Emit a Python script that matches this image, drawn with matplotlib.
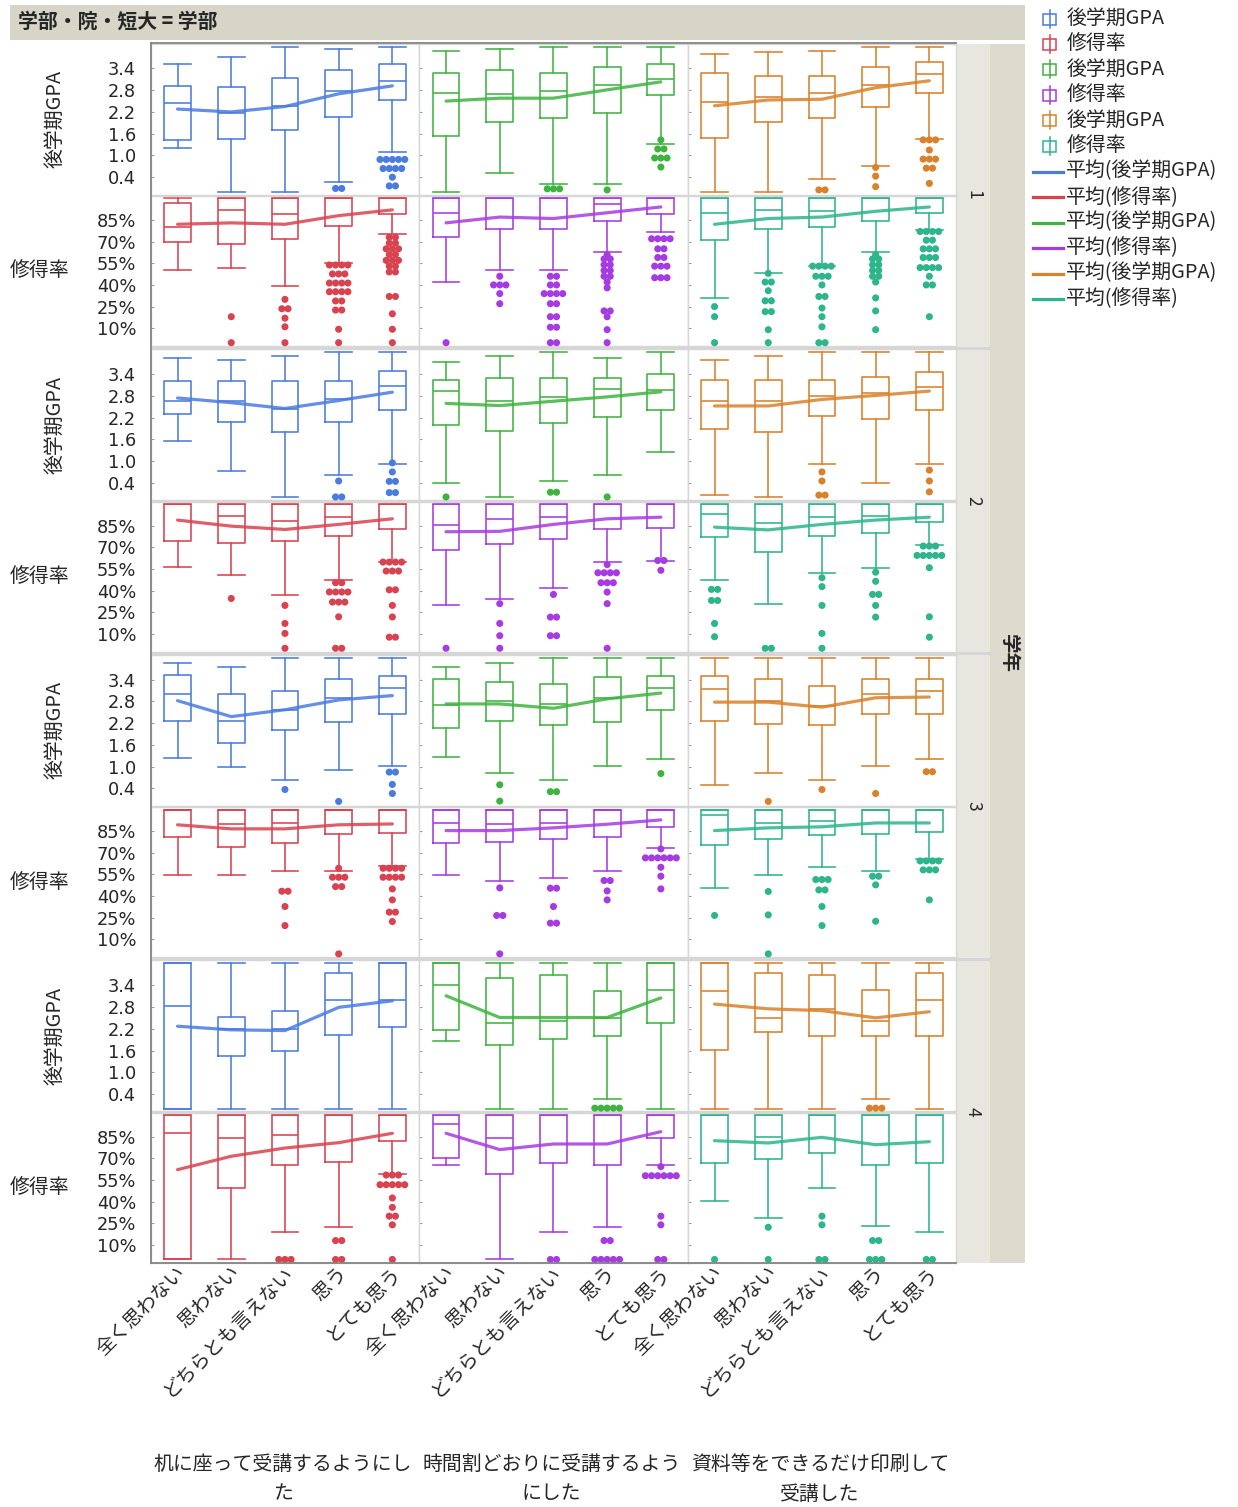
import numpy as np
import matplotlib
matplotlib.use("Agg")
import matplotlib.pyplot as plt
from matplotlib.patches import Rectangle
from matplotlib.lines import Line2D
from matplotlib.ticker import FuncFormatter
import matplotlib.transforms as mtransforms

plt.rcParams['font.family'] = ['Noto Sans CJK JP', 'DejaVu Sans']

# ---------------- data ----------------
categories = ["全く思わない", "思わない", "どちらとも言えない", "思う", "とても思う"]
column_titles = [["机に座って受講するようにし", "た"],
                 ["時間割どおりに受講するよう", "にした"],
                 ["資料等をできるだけ印刷して", "受講した"]]
years = ["1", "2", "3", "4"]
header_text = "学部・院・短大 = 学部"
gpa_ticks = [0.4, 1.0, 1.6, 2.2, 2.8, 3.4]
rate_ticks = [0.10, 0.25, 0.40, 0.55, 0.70, 0.85]

gpa_colors = ["#4a7be0", "#3fb340", "#d9812b"]
rate_colors = ["#d9424f", "#a73be2", "#2db58c"]

# box stats per column: (whislo, q1, med, q3, whishi) for the 5 categories
gpa_box_y1 = [
    [(1.21, 1.42, 2.44, 2.92, 3.52), (0.0, 1.45, 2.18, 2.89, 3.72), (0.0, 1.70, 2.36, 3.14, 4.0), (0.26, 2.07, 2.78, 3.35, 3.93), (1.09, 2.53, 3.06, 3.51, 4.0)],
    [(0.0, 1.54, 2.73, 3.27, 3.88), (0.51, 1.91, 2.70, 3.35, 3.93), (0.21, 2.02, 2.78, 3.27, 4.0), (0.21, 2.16, 2.94, 3.43, 4.0), (1.32, 2.66, 3.10, 3.51, 4.0)],
    [(0.0, 1.49, 2.48, 3.27, 3.80), (0.0, 1.91, 2.60, 3.19, 3.85), (0.35, 2.02, 2.73, 3.19, 3.88), (0.72, 2.33, 2.94, 3.43, 4.0), (1.45, 2.73, 3.24, 3.59, 4.0)],
]
gpa_box_y2 = [
    [(1.55, 2.29, 2.67, 3.21, 3.85), (0.72, 2.08, 2.65, 3.21, 3.80), (0.0, 1.80, 2.43, 3.21, 3.90), (0.61, 2.08, 2.70, 3.21, 4.0), (0.93, 2.42, 3.07, 3.49, 4.0)],
    [(0.40, 2.0, 2.92, 3.24, 3.74), (0.0, 1.84, 2.67, 3.28, 3.90), (0.44, 2.04, 2.77, 3.28, 4.0), (0.61, 2.21, 2.99, 3.28, 3.85), (1.26, 2.42, 2.96, 3.40, 4.0)],
    [(0.07, 1.88, 2.67, 3.24, 3.78), (0.0, 1.79, 2.67, 3.24, 3.90), (0.93, 2.25, 2.79, 3.24, 4.0), (0.40, 2.17, 2.87, 3.33, 4.0), (0.93, 2.42, 3.04, 3.45, 4.0)],
]
gpa_box_y3 = [
    [(1.24, 2.27, 3.01, 3.54, 3.86), (0.98, 1.66, 2.27, 3.01, 3.75), (0.62, 2.01, 2.55, 3.08, 4.0), (0.91, 2.23, 2.89, 3.42, 4.0), (1.03, 2.44, 3.18, 3.49, 4.0)],
    [(1.28, 2.07, 2.69, 3.42, 3.75), (0.83, 2.26, 2.82, 3.34, 3.87), (0.62, 2.15, 2.73, 3.27, 4.0), (1.03, 2.23, 2.89, 3.47, 4.0), (1.20, 2.55, 3.18, 3.50, 4.0)],
    [(0.50, 2.26, 3.14, 3.50, 4.0), (0.83, 2.18, 2.82, 3.42, 4.0), (0.62, 2.14, 2.67, 3.22, 4.0), (1.03, 2.44, 3.01, 3.42, 4.0), (1.20, 2.44, 3.08, 3.42, 4.0)],
]
gpa_box_y4 = [
    [(0.0, 0.0, 2.82, 4.0, 4.0), (0.0, 1.46, 2.20, 2.53, 4.0), (0.0, 1.58, 2.19, 2.70, 4.0), (0.0, 2.03, 2.99, 3.73, 4.0), (0.0, 2.24, 2.99, 4.0, 4.0)],
    [(1.87, 2.17, 3.40, 4.0, 4.0), (0.0, 1.74, 2.37, 3.60, 4.0), (0.0, 1.92, 2.41, 3.68, 4.0), (0.26, 2.0, 2.50, 3.23, 4.0), (0.0, 2.37, 3.28, 4.0, 4.0)],
    [(0.0, 1.62, 3.23, 4.0, 4.0), (0.0, 2.12, 2.50, 3.73, 4.0), (0.0, 1.99, 2.75, 3.68, 4.0), (0.26, 1.99, 2.42, 3.28, 4.0), (0.0, 2.0, 2.99, 3.73, 4.0)],
]

rate_box_y1 = [
    [(0.50, 0.695, 0.80, 0.97, 1.0), (0.52, 0.685, 0.92, 1.0, 1.0), (0.395, 0.715, 0.89, 1.0, 1.0), (0.55, 0.81, 1.0, 1.0, 1.0), (0.75, 0.89, 1.0, 1.0, 1.0)],
    [(0.42, 0.73, 0.90, 1.0, 1.0), (0.50, 0.79, 1.0, 1.0, 1.0), (0.50, 0.79, 1.0, 1.0, 1.0), (0.63, 0.84, 0.96, 1.0, 1.0), (0.77, 0.89, 1.0, 1.0, 1.0)],
    [(0.31, 0.71, 0.90, 1.0, 1.0), (0.48, 0.79, 0.92, 1.0, 1.0), (0.53, 0.80, 0.91, 1.0, 1.0), (0.63, 0.84, 1.0, 1.0, 1.0), (0.78, 0.90, 1.0, 1.0, 1.0)],
]
rate_box_y2 = [
    [(0.56, 0.74, 1.0, 1.0, 1.0), (0.505, 0.73, 0.915, 1.0, 1.0), (0.37, 0.74, 0.885, 1.0, 1.0), (0.473, 0.78, 0.906, 1.0, 1.0), (0.597, 0.823, 1.0, 1.0, 1.0)],
    [(0.297, 0.68, 0.853, 1.0, 1.0), (0.339, 0.72, 0.897, 1.0, 1.0), (0.42, 0.76, 0.906, 1.0, 1.0), (0.597, 0.823, 1.0, 1.0, 1.0), (0.608, 0.835, 1.0, 1.0, 1.0)],
    [(0.473, 0.77, 0.93, 1.0, 1.0), (0.309, 0.669, 0.867, 1.0, 1.0), (0.523, 0.78, 0.906, 1.0, 1.0), (0.558, 0.80, 0.915, 1.0, 1.0), (0.712, 0.876, 1.0, 1.0, 1.0)],
]
rate_box_y3 = [
    [(0.549, 0.808, 1.0, 1.0, 1.0), (0.549, 0.743, 0.90, 1.0, 1.0), (0.577, 0.766, 0.907, 1.0, 1.0), (0.577, 0.827, 1.0, 1.0, 1.0), (0.612, 0.836, 1.0, 1.0, 1.0)],
    [(0.549, 0.766, 0.907, 1.0, 1.0), (0.508, 0.773, 0.90, 1.0, 1.0), (0.529, 0.794, 0.907, 1.0, 1.0), (0.577, 0.808, 1.0, 1.0, 1.0), (0.734, 0.882, 1.0, 1.0, 1.0)],
    [(0.455, 0.755, 0.963, 1.0, 1.0), (0.549, 0.796, 0.907, 1.0, 1.0), (0.60, 0.82, 0.919, 1.0, 1.0), (0.577, 0.827, 1.0, 1.0, 1.0), (0.66, 0.847, 1.0, 1.0, 1.0)],
]
rate_box_y4 = [
    [(0.0, 0.0, 0.874, 1.0, 1.0), (0.0, 0.493, 0.841, 1.0, 1.0), (0.193, 0.654, 0.862, 1.0, 1.0), (0.223, 0.678, 1.0, 1.0, 1.0), (0.594, 0.823, 1.0, 1.0, 1.0)],
    [(0.657, 0.703, 0.939, 1.0, 1.0), (0.0, 0.592, 0.841, 1.0, 1.0), (0.193, 0.666, 1.0, 1.0, 1.0), (0.223, 0.654, 1.0, 1.0, 1.0), (0.657, 0.841, 1.0, 1.0, 1.0)],
    [(0.408, 0.666, 1.0, 1.0, 1.0), (0.286, 0.699, 0.851, 1.0, 1.0), (0.493, 0.738, 1.0, 1.0, 1.0), (0.235, 0.654, 1.0, 1.0, 1.0), (0.193, 0.666, 1.0, 1.0, 1.0)],
]

# means per column (5 categories)
gpa_mean_y1 = [[2.28, 2.20, 2.35, 2.70, 2.92], [2.50, 2.58, 2.58, 2.81, 3.03], [2.37, 2.53, 2.55, 2.87, 3.06]]
gpa_mean_y2 = [[2.74, 2.61, 2.45, 2.67, 2.90], [2.59, 2.53, 2.65, 2.77, 2.91], [2.52, 2.52, 2.70, 2.81, 2.93]]
gpa_mean_y3 = [[2.82, 2.38, 2.57, 2.84, 2.96], [2.73, 2.73, 2.61, 2.87, 3.03], [2.78, 2.78, 2.64, 2.90, 2.92]]
gpa_mean_y4 = [[2.27, 2.17, 2.15, 2.79, 2.97], [3.11, 2.51, 2.51, 2.51, 3.05], [2.88, 2.75, 2.70, 2.50, 2.67]]
rate_mean_y1 = [[0.82, 0.83, 0.82, 0.88, 0.92], [0.83, 0.87, 0.86, 0.90, 0.94], [0.82, 0.86, 0.87, 0.91, 0.94]]
rate_mean_y2 = [[0.888, 0.846, 0.823, 0.858, 0.897], [0.807, 0.81, 0.858, 0.897, 0.908], [0.839, 0.82, 0.858, 0.888, 0.908]]
rate_mean_y3 = [[0.894, 0.866, 0.866, 0.894, 0.900], [0.854, 0.854, 0.873, 0.898, 0.928], [0.854, 0.873, 0.880, 0.907, 0.907]]
rate_mean_y4 = [[0.622, 0.715, 0.772, 0.809, 0.874], [0.874, 0.761, 0.80, 0.80, 0.885], [0.823, 0.807, 0.846, 0.795, 0.816]]

# outliers per column, per category
gpa_out_y1 = [
    [[], [], [], [0.09, 0.09], [0.89] * 5 + [0.64] * 4 + [0.40] + [0.16] * 2],
    [[], [], [0.08] * 3, [0.05], [1.43, 1.18, 1.18, 0.93, 0.93, 0.93, 0.68]],
    [[], [], [0.05] * 2, [0.67, 0.43, 0.14], [1.43] * 3 + [1.15] + [0.90] * 3 + [0.65] * 2 + [0.23]],
]
gpa_out_y2 = [
    [[], [], [], [0.45, 0.01, 0.01], [0.95, 0.70, 0.44, 0.44, 0.13, 0.13]],
    [[0.01], [], [0.14, 0.14], [0.01], []],
    [[], [], [0.70, 0.45, 0.06, 0.06], [], [0.75, 0.45, 0.15]],
]
gpa_out_y3 = [
    [[], [], [0.37], [0.04], [0.85, 0.85, 0.51, 0.26]],
    [[], [0.50, 0.05], [0.31, 0.31], [], [0.81]],
    [[], [0.04], [0.37], [0.26], [0.86, 0.86]],
]
gpa_out_y4 = [
    [[], [], [], [], []],
    [[], [], [], [0.01] * 5, []],
    [[], [], [], [0.01] * 3, []],
]
rate_out_y1 = [
    [[], [0.18, 0.0], [0.30, 0.235, 0.235, 0.17, 0.11, 0.0],
     [0.538] * 4 + [0.476] * 3 + [0.413] * 4 + [0.353] * 4 + [0.289] * 2 + [0.226] * 2 + [0.093, 0.0],
     [0.73] * 2 + [0.69] * 2 + [0.65] * 3 + [0.61] * 2 + [0.57] * 3 + [0.53] * 2 + [0.49] * 2 + [0.32] * 2 + [0.20, 0.093, 0.0]],
    [[0.0], [0.46, 0.40, 0.40, 0.40, 0.34, 0.27],
     [0.46] * 2 + [0.40] * 2 + [0.34] * 4 + [0.27] * 2 + [0.18] * 2 + [0.107] * 2 + [0.0] * 2,
     [0.61] + [0.58] * 2 + [0.54] * 2 + [0.50] * 2 + [0.46] * 2 + [0.42, 0.38, 0.22, 0.22, 0.18, 0.09, 0.0],
     [0.72] * 4 + [0.65] * 2 + [0.59] * 2 + [0.53] * 3 + [0.45] * 3],
    [[0.25, 0.18, 0.0], [0.48, 0.42, 0.42, 0.36, 0.29, 0.29, 0.215, 0.215, 0.09, 0.0],
     [0.53] * 4 + [0.46] * 3 + [0.40] + [0.32] * 2 + [0.24, 0.18, 0.11] + [0.0] * 2,
     [0.61] + [0.58] * 2 + [0.54] * 2 + [0.50] * 2 + [0.46] * 2 + [0.42, 0.31, 0.22, 0.09],
     [0.77] * 4 + [0.71] * 2 + [0.65] * 3 + [0.59] * 3 + [0.52] * 4 + [0.46] + [0.40] * 2 + [0.18]],
]
rate_out_y2 = [
    [[], [0.345], [0.297, 0.172, 0.103, 0.0],
     [0.454] * 2 + [0.39] * 4 + [0.32] * 3 + [0.218] + [0.0] * 2,
     [0.597] * 4 + [0.535] * 3 + [0.405] * 2 + [0.297, 0.217] + [0.077] * 2],
    [[0.0], [0.309, 0.172, 0.087, 0.0], [0.373, 0.216, 0.216, 0.087, 0.087],
     [0.58] + [0.523] * 4 + [0.454] * 3 + [0.389, 0.309, 0.0],
     [0.608] * 2 + [0.54]],
    [[0.408] * 2 + [0.331] * 2 + [0.172, 0.08], [0.0] * 2, [0.489, 0.427, 0.297, 0.103, 0.0],
     [0.527, 0.464, 0.373, 0.373, 0.297, 0.216],
     [0.708] * 3 + [0.643] * 5 + [0.558, 0.218, 0.077]],
]
rate_out_y3 = [
    [[], [], [0.434, 0.434, 0.328, 0.196], [0.593] + [0.531] * 3 + [0.466] * 2 + [0.0],
     [0.593] * 4 + [0.531] * 4 + [0.45, 0.374] + [0.289] * 2 + [0.224]],
    [[], [0.457, 0.266, 0.266, 0.0], [0.455, 0.455, 0.328, 0.213, 0.213], [0.508, 0.508, 0.436, 0.374],
     [0.727] + [0.665] * 6 + [0.60, 0.538, 0.45]],
    [[0.266], [0.432, 0.27, 0.0], [0.515] * 3 + [0.443] * 2 + [0.328, 0.196], [0.538] * 2 + [0.478, 0.226],
     [0.644] * 4 + [0.582] * 3 + [0.374]],
]
rate_out_y4 = [
    [[], [], [0.0] * 3, [0.131] * 2 + [0.0] * 2,
     [0.585] * 3 + [0.518] * 5 + [0.426, 0.361] + [0.30] * 2 + [0.24, 0.0]],
    [[], [], [0.0] * 2, [0.131] * 2 + [0.0] * 5, [0.643] + [0.58] * 6 + [0.30, 0.24] + [0.0] * 2],
    [[0.0], [0.223, 0.0], [0.30, 0.24, 0.0, 0.0], [0.131] * 2 + [0.0] * 3, [0.0] * 2],
]

gpa_box = [gpa_box_y1, gpa_box_y2, gpa_box_y3, gpa_box_y4]
rate_box = [rate_box_y1, rate_box_y2, rate_box_y3, rate_box_y4]
gpa_mean = [gpa_mean_y1, gpa_mean_y2, gpa_mean_y3, gpa_mean_y4]
rate_mean = [rate_mean_y1, rate_mean_y2, rate_mean_y3, rate_mean_y4]
gpa_out = [gpa_out_y1, gpa_out_y2, gpa_out_y3, gpa_out_y4]
rate_out = [rate_out_y1, rate_out_y2, rate_out_y3, rate_out_y4]

# ---------------- layout ----------------
W, H = 1238, 1507
fig = plt.figure(figsize=(W / 100, H / 100), dpi=100)

def fig_rect(x0, y0, w, h):
    return [x0 / W, 1 - (y0 + h) / H, w / W, h / H]

COL_X0, COL_W = 150.7, 268.5
ROW_Y0, ROW_PITCH = 43.5, 305.6
GPA_H, RATE_OFF, RATE_H = 151.0, 152.5, 150.0
PLOT_X1 = COL_X0 + 3 * COL_W
PLOT_Y1 = ROW_Y0 + 3 * ROW_PITCH + RATE_OFF + RATE_H

TXT = "#262626"
SEP = "#d6d6d6"
FS_CJK = 14.3

bg = fig.add_axes([0, 0, 1, 1], zorder=-5)
bg.set_xlim(0, W)
bg.set_ylim(H, 0)
bg.axis("off")
bg.add_patch(Rectangle((COL_X0, ROW_Y0), PLOT_X1 - COL_X0, PLOT_Y1 - ROW_Y0, color=SEP, lw=0))
bg.add_patch(Rectangle((10, 5), 1015, 35, color="#d6d5c7", lw=0))
bg.text(18, 21.5, header_text, fontsize=FS_CJK, fontweight="bold", color=TXT, va="center", ha="left")
bg.add_patch(Rectangle((PLOT_X1, ROW_Y0), 990 - PLOT_X1, PLOT_Y1 - ROW_Y0, color="#e7e7e0", lw=0))
bg.add_patch(Rectangle((990, ROW_Y0), 35, PLOT_Y1 - ROW_Y0, color="#dcdbcd", lw=0))
for r in range(1, 4):
    yy = ROW_Y0 + r * ROW_PITCH - 1.5
    bg.add_line(Line2D([PLOT_X1, 990], [yy, yy], color=SEP, lw=2.2))
for r, lab in enumerate(years):
    yc = ROW_Y0 + r * ROW_PITCH + (RATE_OFF + RATE_H) / 2
    bg.text(973, yc, lab, rotation=-90, fontsize=12.5, color=TXT, ha="center", va="center")
bg.text(1008, 653, "学年", rotation=-90, fontsize=14, fontweight="bold", color=TXT, ha="center", va="center")

def fmt_pct(v, pos):
    return f"{v * 100:.0f}%"

SPACING = 0.115

def draw_panel(ax, stats, means, outs, color, is_gpa):
    bstats = [dict(whislo=s[0], q1=s[1], med=s[2], q3=s[3], whishi=s[4], fliers=[]) for s in stats]
    lp = dict(color=color, lw=1.15)
    ax.bxp(bstats, positions=np.arange(len(categories)), widths=0.5, showfliers=False,
           boxprops=lp, whiskerprops=lp, capprops=lp, medianprops=lp, capwidths=0.5)
    for i, vals in enumerate(outs):
        if not vals:
            continue
        xs, ys = [], []
        for v in sorted(set(vals), reverse=True):
            n = vals.count(v)
            offs = (np.arange(n) - (n - 1) / 2) * SPACING
            xs.extend(i + offs)
            ys.extend([v] * n)
        ax.scatter(xs, ys, s=26, color=color, edgecolors="none", zorder=3, clip_on=False)
    ax.plot(np.arange(len(categories)), means, color=color, lw=2.3, alpha=0.85,
            solid_capstyle="round", zorder=4)
    ax.set_xlim(-0.5, len(categories) - 0.5)
    if is_gpa:
        ax.set_ylim(-0.077, 4.088)
        ax.set_yticks(gpa_ticks)
    else:
        ax.set_ylim(-0.023, 1.016)
        ax.set_yticks(rate_ticks)
        ax.yaxis.set_major_formatter(FuncFormatter(fmt_pct))
    for sp in ax.spines.values():
        sp.set_color(SEP)
        sp.set_linewidth(1.0)
    ax.tick_params(axis="y", direction="in", length=2, color="#9a9a9a", pad=10.5,
                   labelsize=12.8, labelcolor=TXT, labelfontfamily="DejaVu Sans")
    ax.tick_params(axis="x", length=0)

for r in range(4):
    for c in range(3):
        x0 = COL_X0 + c * COL_W
        y0 = ROW_Y0 + r * ROW_PITCH
        axg = fig.add_axes(fig_rect(x0, y0, COL_W, GPA_H))
        draw_panel(axg, gpa_box[r][c], gpa_mean[r][c], gpa_out[r][c], gpa_colors[c], True)
        axr = fig.add_axes(fig_rect(x0, y0 + RATE_OFF, COL_W, RATE_H))
        draw_panel(axr, rate_box[r][c], rate_mean[r][c], rate_out[r][c], rate_colors[c], False)
        axg.set_xticks(np.arange(len(categories)))
        axg.set_xticklabels([])
        axr.set_xticks(np.arange(len(categories)))
        if r == 3:
            axr.set_xticklabels(categories, rotation=45, ha="right", va="center",
                                rotation_mode="anchor", fontsize=14, color=TXT)
            off = mtransforms.ScaledTranslation(5 / 100, -2 / 100, fig.dpi_scale_trans)
            for lbl in axr.get_xticklabels():
                lbl.set_transform(lbl.get_transform() + off)
        else:
            axr.set_xticklabels([])
        if c != 0:
            axg.tick_params(axis="y", labelleft=False)
            axr.tick_params(axis="y", labelleft=False)
        else:
            bg.text(55, y0 + GPA_H / 2, "後学期GPA", rotation=90, fontsize=FS_CJK, color=TXT,
                    ha="center", va="center")
            bg.text(40, y0 + RATE_OFF + RATE_H / 2, "修得率", fontsize=FS_CJK, color=TXT,
                    ha="center", va="center")

for c, lines in enumerate(column_titles):
    xc = COL_X0 + (c + 0.5) * COL_W
    bg.text(xc - 2, 1464, lines[0], fontsize=FS_CJK, color=TXT, ha="center", va="center")
    bg.text(xc - 2, 1494, lines[1], fontsize=FS_CJK, color=TXT, ha="center", va="center")

top = fig.add_axes([0, 0, 1, 1], zorder=10)
top.set_xlim(0, W)
top.set_ylim(H, 0)
top.axis("off")
top.patch.set_alpha(0)
FRAME = "#858585"
top.add_line(Line2D([COL_X0, PLOT_X1], [ROW_Y0 - 0.5, ROW_Y0 - 0.5], color=FRAME, lw=1.3))
top.add_line(Line2D([COL_X0, COL_X0], [ROW_Y0 - 0.5, PLOT_Y1], color=FRAME, lw=1.3))
top.add_line(Line2D([COL_X0, PLOT_X1], [PLOT_Y1, PLOT_Y1], color=FRAME, lw=1.3))

legend_labels = ["後学期GPA", "修得率"] * 3
legend_box_colors = [gpa_colors[0], rate_colors[0], gpa_colors[1], rate_colors[1], gpa_colors[2], rate_colors[2]]
mean_labels = ["平均(後学期GPA)", "平均(修得率)"] * 3
for i in range(6):
    yc = 18.5 + 25.4 * i
    col = legend_box_colors[i]
    top.add_line(Line2D([1049.5, 1049.5], [yc - 9, yc + 9], color=col, lw=1.1))
    top.add_patch(Rectangle((1043, yc - 5), 13, 11, facecolor="white", edgecolor=col, lw=1.1))
    top.text(1067, yc, legend_labels[i], fontsize=FS_CJK, color=TXT, ha="left", va="center")
for i in range(6):
    yc = 18.5 + 25.4 * (6 + i)
    col = legend_box_colors[i]
    top.add_line(Line2D([1033, 1063], [yc + 1, yc + 1], color=col, lw=2.3))
    top.text(1066, yc, mean_labels[i], fontsize=FS_CJK, color=TXT, ha="left", va="center")

fig.savefig("out.png", dpi=100, facecolor="white")
